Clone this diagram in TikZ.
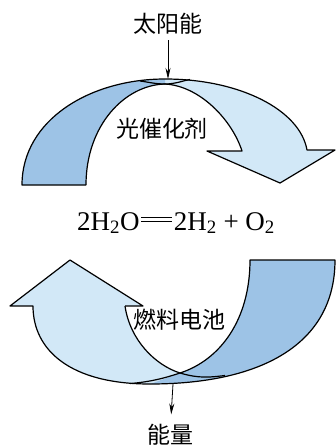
\documentclass[tikz,border=0pt]{standalone}
\usepackage{fontspec}
\setmainfont{Liberation Serif}
\newfontfamily\cjk{Noto Sans CJK SC}
\usetikzlibrary{arrows.meta}
\usepackage{xcolor}
\definecolor{deep}{HTML}{9DC3E6}
\definecolor{pale}{HTML}{D2E8F7}
\newcommand{\longeq}{\mbox{\kern0.06em\rlap{\raisebox{0.29em}{\rule{1.15em}{0.055em}}}\raisebox{0.44em}{\rule{1.15em}{0.055em}}\kern0.06em}}

\begin{document}
\begin{tikzpicture}[x=1pt,y=-1pt,
        lbl/.style={font=\cjk\fontsize{23}{23}\selectfont,inner sep=2pt,anchor=base},
        edge/.style={line width=1.2pt,line join=round},
        pil/.style={-{Stealth[length=11pt,width=5pt]},line width=0.8pt}]
        \useasboundingbox (0,0) rectangle (336,448);
        % upper ribbon
        \fill[pale] (165,79) .. controls (240,79) and (300,110) .. (307,150) -- (335,150) -- (280,183) -- (207,151) -- (242,151)
              .. controls (232,120) and (200,86) .. (165,84) -- cycle;
        \fill[deep] (22,185) .. controls (22,120) and (90,79) .. (165,79) -- (165,84) .. controls (125,85) and (86,125) .. (86,185) -- cycle;
        \draw[edge] (86,185) -- (22,185) .. controls (22,120) and (90,79) .. (165,79) .. controls (240,79) and (300,110) .. (307,150)
              -- (335,150) -- (280,183) -- (207,151) -- (242,151) .. controls (232,120) and (200,86) .. (165,84)
              .. controls (155,84) and (148,82) .. (140,81);
        \draw[edge] (86,185) .. controls (86,125) and (125,85) .. (165,84) .. controls (175,84) and (182,81) .. (190,79.5);
        % lower ribbon
        \fill[pale] (10,306) -- (33,306) .. controls (33,350) and (70,384) .. (150,384) -- (180,373)
              .. controls (155,365) and (130,340) .. (125,306) -- (143,306) -- (70,260) -- cycle;
        \fill[deep] (250,260) -- (335,260) .. controls (335,345) and (260,384) .. (150,384) -- (180,373)
              .. controls (220,360) and (250,320) .. (250,260) -- cycle;
        \draw[edge] (125,306) -- (143,306) -- (70,260) -- (10,306) -- (33,306) .. controls (33,350) and (70,384) .. (150,384)
              .. controls (260,384) and (335,345) .. (335,260) -- (250,260) .. controls (250,320) and (220,360) .. (180,373)
              .. controls (165,378) and (150,382) .. (130,383.5);
        \draw[edge] (125,306) .. controls (130,340) and (155,365) .. (180,373) .. controls (200,379) and (212,377) .. (225,375.5);
        % labels
        \node[lbl] (sun) at (168,32) {太阳能};
        \coordinate (sunhit) at (168,79);
        \draw[pil,shorten <=4pt] (sun) -- (sunhit);
        \node[lbl] (cat) at (162,137) {光催化剂};
        \node[font=\fontsize{27}{27}\selectfont,anchor=base] (eq) at (176,230)
              {2H\textsubscript{2}O\longeq2H\textsubscript{2} + O\textsubscript{2}};
        \node[lbl] (cell) at (179,328) {燃料电池};
        \coordinate (cellhit) at (173,384);
        \node[lbl] (energy) at (170,443) {能量};
        \draw[pil,shorten >=7pt] (cellhit) -- (energy);
\end{tikzpicture}
\end{document}
